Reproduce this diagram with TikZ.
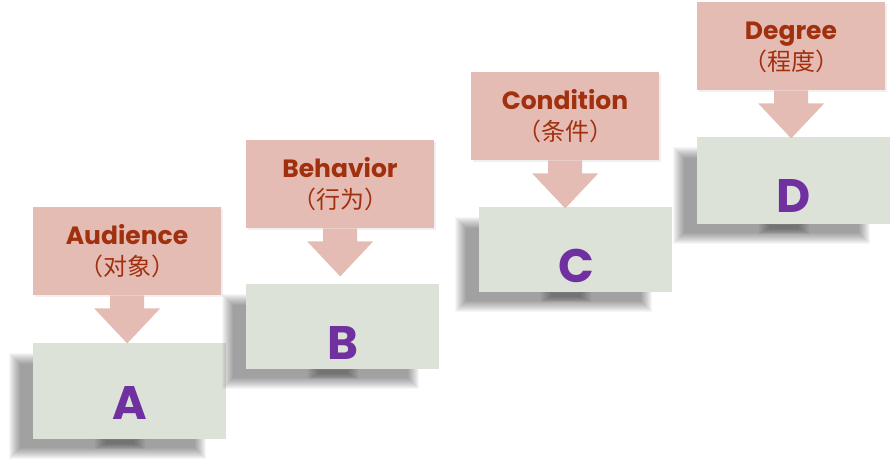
\documentclass[tikz,border=0pt]{standalone}
\usepackage{fontspec}
\setmainfont{Poppins}
\newfontfamily\cjk{Noto Sans CJK SC}
\usetikzlibrary{calc}
\definecolor{pinkfill}{HTML}{E5BCB4}
\definecolor{greenfill}{HTML}{DCE2D8}
\definecolor{labelred}{HTML}{A0300E}
\definecolor{letterpurple}{HTML}{7030A0}
\tikzset{
  greenbox/.style={fill=greenfill, draw=none, inner sep=0pt, anchor=north west, minimum width=193bp},
  pinkbox/.style={fill=pinkfill, draw=none, inner sep=0pt, anchor=north west, minimum width=188bp, minimum height=88bp},
  entext/.style={font=\fontsize{25bp}{29bp}\selectfont\bfseries, text=labelred, anchor=base, inner sep=0pt},
  cntext/.style={font=\cjk\fontsize{24bp}{28bp}\selectfont, text=labelred, anchor=base, inner sep=0pt},
  letterstyle/.style={font=\fontsize{47bp}{50bp}\selectfont\bfseries, text=letterpurple, anchor=base, inner sep=0pt},
}
\newcommand\stepunit[9]{%
  \foreach \k in {0,...,11}{\fill[black,opacity=0.034] (#4-24+\k,#5+10+\k) rectangle (#4+173-\k,#5+#6+20-\k);}
  \foreach \k in {0,...,5}{\fill[black,opacity=0.05] (#4+62+2*\k,#5+#6-4+\k) rectangle (#4+112-2*\k,#5+#6+10-\k);}
  \fill[black,opacity=0.06] (#2+2,#3+2) rectangle (#2+190,#3+90);
  \node[greenbox, minimum height=#6bp] (b#1) at (#4,#5) {};
  \node[letterstyle] (l#1) at (#4+97,#5+76) {#9};
  \node[pinkbox] (c#1) at (#2,#3) {};
  \fill[pinkfill] ($(c#1.south)+(-17,0)$) -- ++(0,13) -- ++(-16,0) -- ($(c#1.south)+(0,48)$) -- ($(c#1.south)+(33,13)$) -- ++(-16,0) -- ($(c#1.south)+(17,0)$) -- cycle;
  \node[entext] (e#1) at (#2+94,#3+38) {#7};
  \node[cntext] (z#1) at (#2+94,#3+69) {#8};
}
\begin{document}
\begin{tikzpicture}[x=1bp,y=-1bp]
  \fill[white] (0,0) rectangle (890,470);
  \useasboundingbox (0,0) rectangle (890,470);
  \stepunit{a}{33}{207}{33}{343}{96}{Audience}{（对象）}{A}
  \stepunit{b}{246}{140}{246}{284}{85}{Behavior}{（行为）}{B}
  \stepunit{c}{471}{72}{479}{207}{85}{Condition}{（条件）}{C}
  \stepunit{d}{697}{2}{697}{137}{87}{Degree}{（程度）}{D}
\end{tikzpicture}
\end{document}
